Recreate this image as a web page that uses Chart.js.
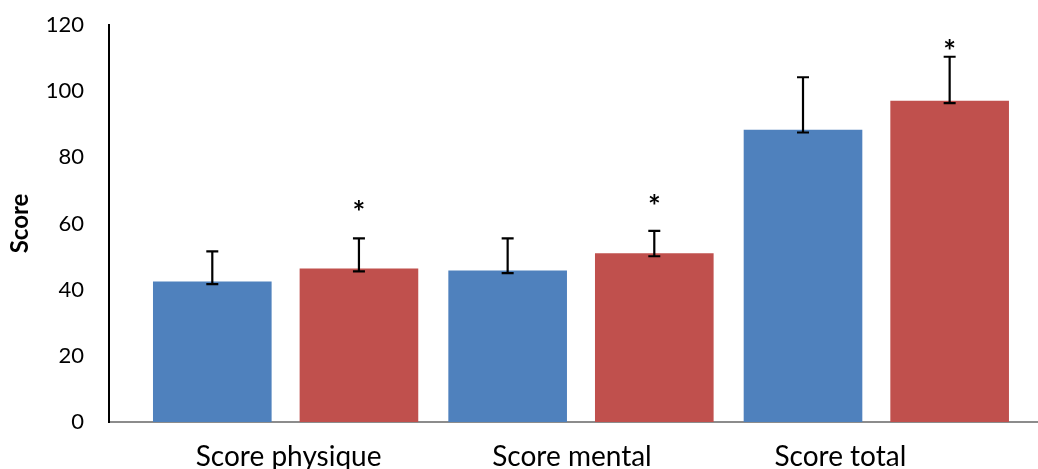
<!DOCTYPE html>
<html>
<head>
<meta charset="utf-8">
<script src="https://cdn.jsdelivr.net/npm/chart.js@4.4.1/dist/chart.umd.min.js"></script>
<style>
  html, body { margin: 0; padding: 0; background: #fff; }
  #wrap { width: 1038px; height: 469px; }
</style>
</head>
<body>
<div id="wrap"><canvas id="c" width="1038" height="469"></canvas></div>
<script>
// Category labels and bar values
const categories = ['Score physique', 'Score mental', 'Score total'];
const seriesBlue = [42.5, 45.8, 88.3];
const seriesRed = [46.4, 51.0, 97.1];

// Error bar extents (above / below each bar top)
const errPlusBlue = [9.1, 9.7, 15.9];
const errMinusBlue = [0.8, 0.8, 0.8];
const errPlusRed = [9.1, 6.8, 13.3];
const errMinusRed = [0.9, 0.9, 0.7];

// Height (in score units) of the significance star over each red bar
const sigMarkRed = [65.3, 67.0, 114.0];

// Axis ticks
const yTicks = [0, 20, 40, 60, 80, 100, 120];
const xRange = [-0.598, 2.544];

const FONT = 'Lato, sans-serif';

const toPoints = arr => arr.map((v, i) => ({ x: i, y: v }));

// Error bars and significance stars drawn over the bars
const errorBars = {
  id: 'errorBars',
  afterDatasetsDraw(chart) {
    const { ctx } = chart;
    const y = chart.scales.y;
    chart.data.datasets.forEach((ds, i) => {
      const meta = chart.getDatasetMeta(i);
      meta.data.forEach((bar, j) => {
        const v = ds.data[j].y;
        const top = y.getPixelForValue(v + ds.errPlus[j]);
        const bot = y.getPixelForValue(v - ds.errMinus[j]);
        const cap = 6;
        ctx.save();
        ctx.strokeStyle = '#000';
        ctx.lineWidth = 2.2;
        ctx.beginPath();
        ctx.moveTo(bar.x, top);
        ctx.lineTo(bar.x, bot);
        ctx.moveTo(bar.x - cap, top);
        ctx.lineTo(bar.x + cap, top);
        ctx.moveTo(bar.x - cap, bot);
        ctx.lineTo(bar.x + cap, bot);
        ctx.stroke();
        ctx.restore();
      });
      if (ds.sigMarks) {
        meta.data.forEach((bar, j) => {
          const py = y.getPixelForValue(ds.sigMarks[j]);
          ctx.save();
          ctx.fillStyle = '#000';
          ctx.font = 'bold 30px ' + FONT;
          ctx.textAlign = 'center';
          ctx.textBaseline = 'alphabetic';
          ctx.fillText('*', bar.x, py + 17);
          ctx.restore();
        });
      }
    });
  }
};

// Category names under the axis, each nudged sideways like the office-chart layout
const categoryLabels = {
  id: 'categoryLabels',
  afterDraw(chart, args, opts) {
    const { ctx } = chart;
    const x = chart.scales.x;
    ctx.save();
    ctx.fillStyle = '#000';
    ctx.font = '28px ' + FONT;
    ctx.textAlign = 'center';
    ctx.textBaseline = 'alphabetic';
    categories.forEach((name, i) => {
      ctx.fillText(name, x.getPixelForValue(i) + opts.nudge[i], x.top + opts.baseline);
    });
    ctx.restore();
  }
};

new Chart(document.getElementById('c'), {
  type: 'bar',
  data: {
    datasets: [
      {
        label: 'Série 1',
        data: toPoints(seriesBlue),
        backgroundColor: '#4F81BD',
        errPlus: errPlusBlue,
        errMinus: errMinusBlue
      },
      {
        label: 'Série 2',
        data: toPoints(seriesRed),
        backgroundColor: '#C0504D',
        errPlus: errPlusRed,
        errMinus: errMinusRed,
        sigMarks: sigMarkRed
      }
    ]
  },
  options: {
    responsive: false,
    animation: false,
    events: [],
    categoryPercentage: 0.993,
    barPercentage: 0.809,
    layout: { padding: { left: 0, top: 25, right: 1, bottom: 0 } },
    plugins: {
      legend: { display: false },
      tooltip: { enabled: false },
      categoryLabels: { nudge: [3, -9, -36], baseline: 44 }
    },
    scales: {
      x: {
        type: 'linear',
        offset: false,
        min: xRange[0],
        max: xRange[1],
        afterBuildTicks: s => { s.ticks = categories.map((_, i) => ({ value: i })); },
        afterFit: s => { s.height = 47; },
        grid: { display: false, drawTicks: false, offset: false },
        border: { display: true, color: '#8c8c8c', width: 2 },
        ticks: { display: false }
      },
      y: {
        min: 0,
        max: 120,
        afterBuildTicks: s => { s.ticks = yTicks.map(v => ({ value: v })); },
        afterFit: s => { s.width = 109; s.paddingTop = 0; s.paddingBottom = 0; },
        grid: { display: false, drawTicks: false },
        border: { display: true, color: '#000', width: 2 },
        ticks: {
          padding: 25,
          color: '#000',
          font: { family: FONT, size: 22 }
        },
        title: {
          display: true,
          text: 'Score',
          color: '#000',
          padding: { top: 6, bottom: 0 },
          font: { family: FONT, size: 24, weight: 'bold' }
        }
      }
    }
  },
  plugins: [errorBars, categoryLabels]
});
</script>
</body>
</html>
